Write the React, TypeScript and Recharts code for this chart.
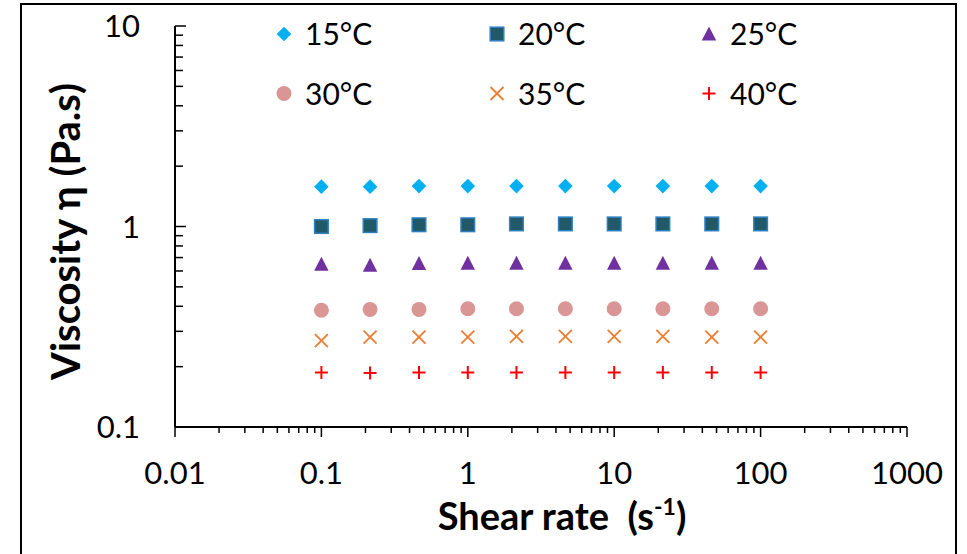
import React from "react";
import { ScatterChart, Scatter, XAxis, YAxis, Legend } from "recharts";

// shear rate (1/s) and viscosity (Pa.s)
const shearRate = [0.1, 0.215, 0.464, 1, 2.15, 4.64, 10, 21.5, 46.4, 100];
const visc15 = [1.58, 1.58, 1.59, 1.59, 1.59, 1.59, 1.59, 1.59, 1.59, 1.59];
const visc20 = [1.0, 1.01, 1.02, 1.02, 1.03, 1.03, 1.03, 1.03, 1.03, 1.03];
const visc25 = [0.648, 0.641, 0.653, 0.655, 0.655, 0.655, 0.655, 0.655, 0.655, 0.655];
const visc30 = [0.382, 0.386, 0.386, 0.389, 0.389, 0.389, 0.389, 0.389, 0.389, 0.389];
const visc35 = [0.27, 0.281, 0.281, 0.281, 0.283, 0.283, 0.283, 0.283, 0.281, 0.281];
const visc40 = [0.187, 0.186, 0.187, 0.187, 0.187, 0.187, 0.187, 0.187, 0.187, 0.187];

const seriesNames = ["15°C", "20°C", "25°C", "30°C", "35°C", "40°C"];

const xMajorTicks = [0.01, 0.1, 1, 10, 100, 1000];
const yMajorTicks = [0.1, 1, 10];
const minorSteps = [2, 3, 4, 5, 6, 7, 8, 9];

const withMinors = (majors: number[]) => {
  const out: number[] = [];
  majors.forEach((m, i) => {
    out.push(m);
    if (i < majors.length - 1) minorSteps.forEach((k) => out.push(+(m * k).toPrecision(6)));
  });
  return out;
};
const xTicks = withMinors(xMajorTicks);
const yTicks = withMinors(yMajorTicks);

const toPoints = (vals: number[]) => shearRate.map((x, i) => ({ x, y: vals[i] }));

type Kind = "diamond" | "square" | "triangle" | "circle" | "cross" | "plus";

const series: { name: string; kind: Kind; values: number[] }[] = [
  { name: seriesNames[0], kind: "diamond", values: visc15 },
  { name: seriesNames[1], kind: "square", values: visc20 },
  { name: seriesNames[2], kind: "triangle", values: visc25 },
  { name: seriesNames[3], kind: "circle", values: visc30 },
  { name: seriesNames[4], kind: "cross", values: visc35 },
  { name: seriesNames[5], kind: "plus", values: visc40 },
];

const FONT = "Lato, 'Open Sans', sans-serif";

function Marker({ kind, cx, cy }: { kind: Kind; cx: number; cy: number }) {
  if (cx == null || cy == null) return null;
  switch (kind) {
    case "diamond":
      return (
        <polygon
          points={`${cx},${cy - 7.3} ${cx + 7.3},${cy} ${cx},${cy + 7.3} ${cx - 7.3},${cy}`}
          fill="#00B0F0"
        />
      );
    case "square":
      return (
        <rect x={cx - 6.8} y={cy - 6.8} width={13.6} height={13.6} fill="#215968" stroke="#2E80C2" strokeWidth={1.5} />
      );
    case "triangle":
      return (
        <polygon
          points={`${cx},${cy - 7.5} ${cx + 7.2},${cy + 6.5} ${cx - 7.2},${cy + 6.5}`}
          fill="#7030A0"
        />
      );
    case "circle":
      return <circle cx={cx} cy={cy} r={7.5} fill="#DA9694" />;
    case "cross":
      return (
        <g stroke="#ED7D31" strokeWidth={1.8}>
          <line x1={cx - 6.5} y1={cy - 6.5} x2={cx + 6.5} y2={cy + 6.5} />
          <line x1={cx - 6.5} y1={cy + 6.5} x2={cx + 6.5} y2={cy - 6.5} />
        </g>
      );
    default:
      return (
        <g stroke="#FF0000" strokeWidth={2}>
          <line x1={cx - 6.5} y1={cy} x2={cx + 6.5} y2={cy} />
          <line x1={cx} y1={cy - 6.5} x2={cx} y2={cy + 6.5} />
        </g>
      );
  }
}

const XTick = (props: any) => {
  const { x, y, payload } = props;
  const major = xMajorTicks.includes(payload.value);
  return (
    <g>
      <line x1={x} y1={y} x2={x} y2={y + (major ? 10 : 6)} stroke="#000" strokeWidth={1.5} />
      {major && (
        <text x={x} y={y + 57} textAnchor="middle" fontSize={31} fontFamily={FONT} fill="#000">
          {String(payload.value)}
        </text>
      )}
    </g>
  );
};

const YTick = (props: any) => {
  const { x, y, payload } = props;
  const major = yMajorTicks.includes(payload.value);
  return (
    <g>
      <line x1={x} y1={y} x2={x + (major ? 11 : 8)} y2={y} stroke="#000" strokeWidth={1.5} />
      {major && (
        <text x={x - 35} y={y + 11} textAnchor="end" fontSize={31} fontFamily={FONT} fill="#000">
          {String(payload.value)}
        </text>
      )}
    </g>
  );
};

const renderYTitle = (props: any) => {
  const vb = props.viewBox || { x: 20, y: 26, width: 155, height: 401 };
  const px = vb.x + 60;
  const py = vb.y + vb.height / 2 + 5;
  return (
    <text
      x={px}
      y={py}
      transform={`rotate(-90, ${px}, ${py})`}
      textAnchor="middle"
      fontSize={40}
      fontWeight={700}
      fontFamily={FONT}
      fill="#000"
    >
      Viscosity η (Pa.s)
    </text>
  );
};

const renderXTitle = (props: any) => {
  const vb = props.viewBox || { x: 175, y: 427, width: 732, height: 120 };
  const px = vb.x + vb.width / 2 + 21;
  const py = vb.y + 103;
  return (
    <text x={px} y={py} textAnchor="middle" fontSize={38} fontWeight={700} fontFamily={FONT} fill="#000">
      <tspan>{"Shear rate \u00A0(s"}</tspan>
      <tspan fontSize={23} dy={-15}>-1</tspan>
      <tspan dy={15}>)</tspan>
    </text>
  );
};

const legendCols = [284, 497, 709];
const legendRows = [34, 93.5];

const LegendBox = () => (
  <svg width={967} height={130} style={{ display: "block" }}>
    {series.map((s, i) => {
      const cx = legendCols[i % 3];
      const cy = legendRows[Math.floor(i / 3)];
      return (
        <g key={s.name}>
          <Marker kind={s.kind} cx={cx} cy={cy} />
          <text x={cx + 21} y={cy + 11} fontSize={30} fontFamily={FONT} fill="#000">
            {s.name}
          </text>
        </g>
      );
    })}
  </svg>
);

export default function App() {
  return (
    <div
      style={{
        position: "absolute",
        left: 0,
        top: 0,
        width: 967,
        height: 554,
        overflow: "hidden",
        background: "#fff",
      }}
    >
      <div
        style={{
          position: "absolute",
          left: 20,
          top: 3,
          width: 933,
          height: 620,
          border: "2px solid #000",
        }}
      />
      <div style={{ position: "absolute", left: 0, top: 0 }}>
        <ScatterChart
          width={967}
          height={554}
          margin={{ top: 26, right: 60, bottom: 7, left: 20 }}
          style={{ fontFamily: FONT }}
        >
          <XAxis
            dataKey="x"
            type="number"
            scale="log"
            domain={[0.01, 1000]}
            allowDataOverflow
            ticks={xTicks}
            interval={0}
            tickSize={0}
            tickMargin={0}
            tickLine={false}
            tick={<XTick />}
            axisLine={{ stroke: "#000", strokeWidth: 2 }}
            height={120}
            label={renderXTitle}
          />
          <YAxis
            dataKey="y"
            type="number"
            scale="log"
            domain={[0.1, 10]}
            allowDataOverflow
            ticks={yTicks}
            interval={0}
            tickSize={0}
            tickMargin={0}
            tickLine={false}
            tick={<YTick />}
            axisLine={{ stroke: "#000", strokeWidth: 2 }}
            width={155}
            label={renderYTitle}
          />
          <Legend
            layout="horizontal"
            verticalAlign="middle"
            align="center"
            wrapperStyle={{ top: 0, left: 0, width: 967, height: 130 }}
            content={() => <LegendBox />}
          />
          {series.map((s) => (
            <Scatter
              key={s.name}
              name={s.name}
              data={toPoints(s.values)}
              isAnimationActive={false}
              shape={(p: any) => <Marker kind={s.kind} cx={p.cx} cy={p.cy} />}
            />
          ))}
        </ScatterChart>
      </div>
    </div>
  );
}
